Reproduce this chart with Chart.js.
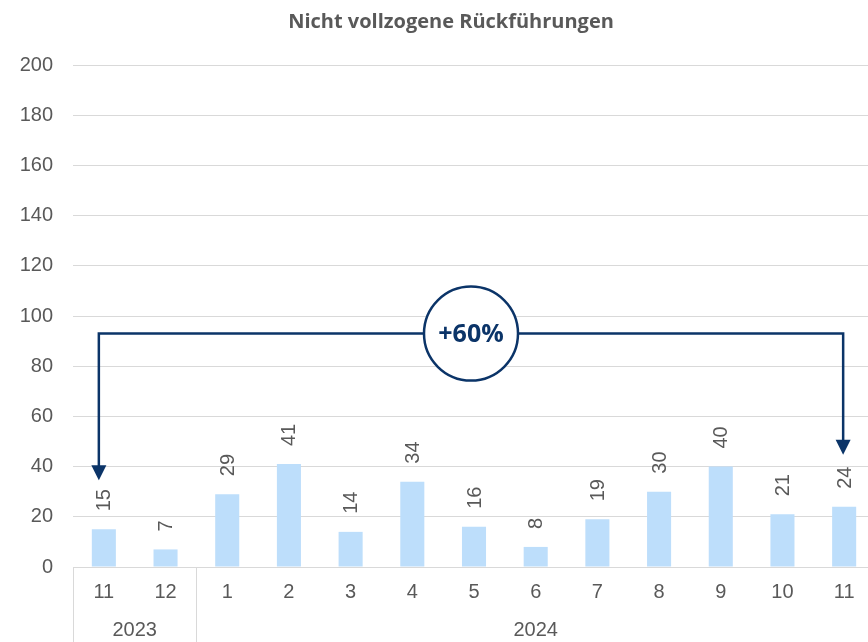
<!DOCTYPE html>
<html>
<head>
<meta charset="utf-8">
<script src="https://cdn.jsdelivr.net/npm/chart.js@4"></script>
<style>
  html, body { margin: 0; padding: 0; background: #ffffff; overflow: hidden; }
  #wrap { width: 876px; height: 642px; position: relative; }
</style>
</head>
<body>
<div id="wrap"><canvas id="c"></canvas></div>
<script>
// Monthly counts of not completed returns
const months = ['11', '12', '1', '2', '3', '4', '5', '6', '7', '8', '9', '10', '11'];
const years = ['2023', '2023', '2024', '2024', '2024', '2024', '2024', '2024', '2024', '2024', '2024', '2024', '2024'];
const counts = [15, 7, 29, 41, 14, 34, 16, 8, 19, 30, 40, 21, 24];
const yTicks = [0, 20, 40, 60, 80, 100, 120, 140, 160, 180, 200];

const titleText = 'Nicht vollzogene Rückführungen';
const changeText = '+60%';
const bracketLevel = 93;      // height of the comparison bracket on the value axis
const compareFrom = 0;        // index of first compared month
const compareTo = 12;         // index of last compared month

const GREY = '#595959';
const GRID = '#d9d9d9';
const NAVY = '#0b3468';
const BAR = '#bddefb';
const FONT = '"Liberation Sans", Arial, sans-serif';

const overlay = {
  id: 'overlay',
  afterDraw(chart) {
    const ctx = chart.ctx;
    const x = chart.scales.x;
    const y = chart.scales.y;
    const area = chart.chartArea;
    const H = chart.height;
    const meta = chart.getDatasetMeta(0);

    ctx.save();

    // title
    ctx.fillStyle = GREY;
    ctx.font = 'bold 20px "Open Sans", sans-serif';
    ctx.textAlign = 'center';
    ctx.textBaseline = 'alphabetic';
    ctx.fillText(titleText, 451, 28);

    // value labels, rotated
    ctx.font = '20px ' + FONT;
    ctx.fillStyle = GREY;
    meta.data.forEach((bar, i) => {
      ctx.save();
      ctx.translate(bar.x + 1, bar.y - 18);
      ctx.rotate(-Math.PI / 2);
      ctx.textAlign = 'left';
      ctx.textBaseline = 'middle';
      ctx.fillText(String(counts[i]), 0, 0);
      ctx.restore();
    });

    // month labels
    ctx.textAlign = 'center';
    ctx.textBaseline = 'middle';
    ctx.fillStyle = GREY;
    months.forEach((m, i) => {
      ctx.fillText(m, x.getPixelForValue(i), area.bottom + 25);
    });

    // year groups with separators
    const step = x.getPixelForValue(1) - x.getPixelForValue(0);
    let start = 0;
    ctx.strokeStyle = GRID;
    ctx.lineWidth = 1;
    for (let i = 1; i <= years.length; i++) {
      if (i === years.length || years[i] !== years[start]) {
        const left = x.getPixelForValue(start) - step / 2;
        const right = x.getPixelForValue(i - 1) + step / 2;
        ctx.fillText(years[start], (left + right) / 2, area.bottom + 63);
        [left, right].forEach(px => {
          const sx = Math.round(px) + 0.5;
          ctx.beginPath();
          ctx.moveTo(sx, area.bottom);
          ctx.lineTo(sx, H);
          ctx.stroke();
        });
        start = i;
      }
    }

    // comparison bracket with arrows
    const xa = meta.data[compareFrom].x - 5;
    const xb = meta.data[compareTo].x - 1;
    const yl = y.getPixelForValue(bracketLevel);
    const tipA = meta.data[compareFrom].y - 49;
    const tipB = meta.data[compareTo].y - 52;
    const head = 15;
    ctx.strokeStyle = NAVY;
    ctx.fillStyle = NAVY;
    ctx.lineWidth = 2.5;
    ctx.lineJoin = 'miter';
    ctx.beginPath();
    ctx.moveTo(xa, tipA - head + 1);
    ctx.lineTo(xa, yl);
    ctx.lineTo(xb, yl);
    ctx.lineTo(xb, tipB - head + 1);
    ctx.stroke();
    [[xa, tipA], [xb, tipB]].forEach(([ax, ay]) => {
      ctx.beginPath();
      ctx.moveTo(ax - 7.5, ay - head);
      ctx.lineTo(ax + 7.5, ay - head);
      ctx.lineTo(ax, ay);
      ctx.closePath();
      ctx.fill();
    });

    // circled change label
    const cx = (xa + xb) / 2;
    ctx.beginPath();
    ctx.arc(cx, yl, 47, 0, Math.PI * 2);
    ctx.fillStyle = '#ffffff';
    ctx.fill();
    ctx.lineWidth = 2.5;
    ctx.strokeStyle = NAVY;
    ctx.stroke();
    ctx.fillStyle = NAVY;
    ctx.font = 'bold 25px "Open Sans", sans-serif';
    ctx.textAlign = 'center';
    ctx.textBaseline = 'middle';
    ctx.fillText(changeText, cx, yl + 1);

    ctx.restore();
  }
};

new Chart(document.getElementById('c'), {
  type: 'bar',
  data: {
    labels: months.map((m, i) => m + '/' + years[i]),
    datasets: [{
      data: counts,
      backgroundColor: BAR,
      borderWidth: 0,
      categoryPercentage: 1,
      barPercentage: 0.39
    }]
  },
  options: {
    responsive: true,
    maintainAspectRatio: false,
    animation: false,
    events: [],
    layout: { padding: { top: 65, right: 1, left: 0, bottom: 0 } },
    plugins: {
      legend: { display: false },
      title: { display: false },
      tooltip: { enabled: false }
    },
    scales: {
      x: {
        ticks: { display: false },
        grid: { display: false, drawTicks: false },
        border: { display: true, color: GRID, width: 1 },
        afterFit(scale) { scale.height = 75; }
      },
      y: {
        min: 0,
        max: 200,
        afterBuildTicks(scale) { scale.ticks = yTicks.map(v => ({ value: v })); },
        ticks: {
          color: GREY,
          font: { family: FONT, size: 20 },
          padding: 20
        },
        grid: { color: GRID, lineWidth: 1, drawTicks: false },
        border: { display: false },
        afterFit(scale) { scale.width = 73; }
      }
    }
  },
  plugins: [overlay]
});
</script>
</body>
</html>
